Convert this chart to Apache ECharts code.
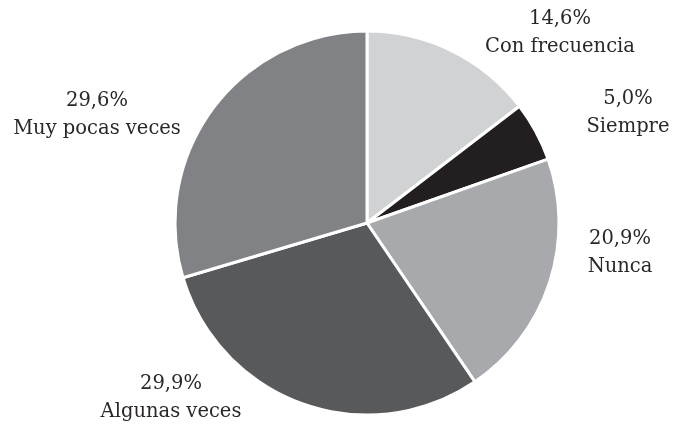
<!DOCTYPE html>
<html>
<head>
<meta charset="utf-8">
<script src="https://cdn.jsdelivr.net/npm/echarts@6/dist/echarts.min.js"></script>
<style>
  html, body { margin: 0; padding: 0; background: #ffffff; }
  #chart { width: 673px; height: 426px; }
</style>
</head>
<body>
<div id="chart"></div>
<script>
// Frequency categories, clockwise from 12 o'clock
const categories = ['Con frecuencia', 'Siempre', 'Nunca', 'Algunas veces', 'Muy pocas veces'];
const percentages = [14.6, 5.0, 20.9, 29.9, 29.6];
const sliceColors = ['#d1d2d4', '#231f20', '#a7a9ac', '#58595b', '#808285'];

// Centre of each two-line label block (pixels)
const labelCenters = [
  [560, 33],
  [628, 113],
  [620, 253],
  [171, 398],
  [97, 115]
];

const fmt = v => v.toFixed(1).replace('.', ',') + '%';

const chart = echarts.init(document.getElementById('chart'), null, { renderer: 'canvas' });

chart.setOption({
  animation: false,
  backgroundColor: '#ffffff',
  series: [{
    type: 'pie',
    center: [367, 223],
    radius: [0, 192],
    startAngle: 90,
    clockwise: true,
    avoidLabelOverlap: false,
    data: categories.map((name, i) => ({
      name,
      value: percentages[i],
      itemStyle: { color: sliceColors[i] }
    })),
    itemStyle: { borderColor: '#ffffff', borderWidth: 3 },
    label: {
      show: true,
      position: 'outside',
      formatter: p => fmt(p.value) + '\n' + p.name,
      fontFamily: 'DejaVu Serif',
      fontSize: 19.5,
      lineHeight: 28,
      color: '#2b2728',
      align: 'center',
      overflow: 'none',
      width: 300
    },
    labelLine: { show: false },
    labelLayout: params => {
      const c = labelCenters[params.dataIndex];
      return { x: c[0], y: c[1], align: 'center', verticalAlign: 'middle' };
    },
    emphasis: { disabled: true }
  }]
});
</script>
</body>
</html>
